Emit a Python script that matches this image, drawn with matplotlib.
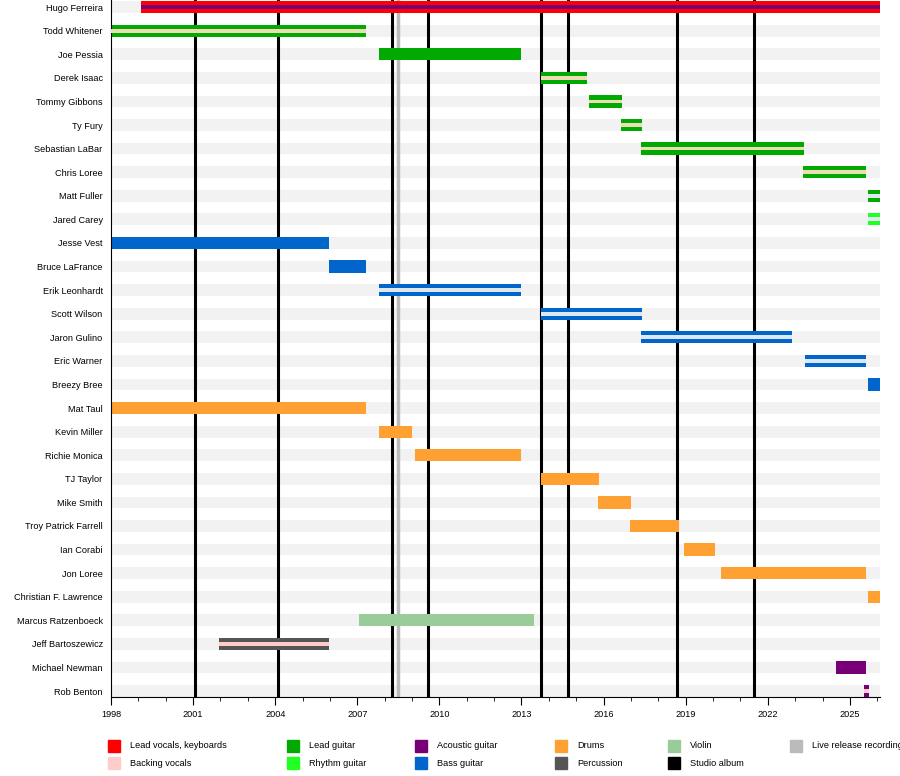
import matplotlib
matplotlib.use("Agg")
import matplotlib.pyplot as plt
from matplotlib.patches import Rectangle

names = ["Hugo Ferreira","Todd Whitener","Joe Pessia","Derek Isaac","Tommy Gibbons","Ty Fury",
         "Sebastian LaBar","Chris Loree","Matt Fuller","Jared Carey","Jesse Vest","Bruce LaFrance",
         "Erik Leonhardt","Scott Wilson","Jaron Gulino","Eric Warner","Breezy Bree","Mat Taul",
         "Kevin Miller","Richie Monica","TJ Taylor","Mike Smith","Troy Patrick Farrell","Ian Corabi",
         "Jon Loree","Christian F. Lawrence","Marcus Ratzenboeck","Jeff Bartoszewicz","Michael Newman","Rob Benton"]
starts = [1999.1,1998.0,2007.8,2013.7,2015.47,2016.63,2017.37,2023.28,2025.66,2025.66,1998.0,2005.97,
          2007.8,2013.7,2017.37,2023.36,2025.66,1998.0,2007.8,2009.1,2013.7,2015.8,2016.96,2018.93,
          2020.29,2025.66,2007.06,2001.95,2024.5,2025.5]
ends = [2026.1,2007.32,2013.0,2015.4,2016.67,2017.4,2023.32,2025.6,2026.1,2026.1,2005.97,2007.32,
        2013.0,2017.4,2022.88,2025.6,2026.1,2007.32,2009.0,2013.0,2015.83,2017.0,2018.75,2020.07,
        2025.6,2026.1,2013.45,2005.97,2025.6,2025.7]
roles = ["vocals","lead","lead","lead","lead","lead","lead","lead","lead","rhythm","bass","bass",
         "bass","bass","bass","bass","bass","drums","drums","drums","drums","drums","drums","drums",
         "drums","drums","violin","perc","acoustic","acoustic"]
second = ["acoustic","tan","","tan","tan","tan","tan","tan","white","white","","",
          "white","white","white","white","","","","","","","","","","","","backing","","backing"]
albums = [2001.07,2004.1,2008.27,2009.6,2013.7,2014.7,2018.7,2021.5]
live = [2008.5]

colors = {"vocals":"#FF0000","backing":"#FFCCCC","lead":"#00AA00","rhythm":"#22FF22",
          "acoustic":"#770077","bass":"#0066CC","drums":"#FFA033","perc":"#555555",
          "violin":"#99CC99","tan":"#EDDCB5","white":"#DDE8F0","album":"#000000","live":"#BBBBBB"}

FS = 6.6
FAM = "Liberation Sans"
fig = plt.figure(figsize=(9,7.76), dpi=100)
ax = fig.add_axes([111/900, 1-697/776, 769/900, 697/776])
n = len(names)
ax.set_xlim(1998, 2026.1)
ax.set_ylim(n-1+0.25, -0.3)
for i in range(n):
    ax.barh(i, 2026.1-1998, left=1998, height=0.5, color="#F2F2F2", zorder=0)
for x in albums:
    ax.axvline(x, color="black", lw=2.2, zorder=1)
for x in live:
    ax.axvline(x, color="#BBBBBB", lw=2.5, zorder=1)
for i in range(n):
    w = ends[i]-starts[i]
    ax.barh(i, w, left=starts[i], height=0.52, color=colors[roles[i]], zorder=2)
    if second[i]:
        ax.barh(i, w, left=starts[i], height=0.16, color=colors[second[i]], zorder=3)
ax.set_yticks(range(n))
ax.set_yticklabels(names, fontsize=FS, family=FAM)
ax.tick_params(axis="y", length=0, pad=6)
ax.set_xticks(range(1998, 2027, 3))
ax.set_xticklabels([str(y) for y in range(1998, 2027, 3)], fontsize=FS, family=FAM)
ax.set_xticks(range(1998, 2027), minor=True)
ax.tick_params(axis="x", which="major", length=6, direction="out")
ax.tick_params(axis="x", which="minor", length=3, direction="out")
for s in ["top","right"]:
    ax.spines[s].set_visible(False)

legend = [("Lead vocals, keyboards","vocals",108,746),("Backing vocals","backing",108,763),
          ("Lead guitar","lead",287,746),("Rhythm guitar","rhythm",287,763),
          ("Acoustic guitar","acoustic",415,746),("Bass guitar","bass",415,763),
          ("Drums","drums",555,746),("Percussion","perc",555,763),
          ("Violin","violin",668,746),("Studio album","album",668,763),
          ("Live release recording","live",790,746)]
for label, key, px, py in legend:
    fig.patches.append(Rectangle((px/900, 1-(py+6)/776), 12/900, 12/776,
                                 transform=fig.transFigure, color=colors[key]))
    fig.text((px+22)/900, 1-py/776, label, fontsize=FS, va="center", family=FAM)
fig.savefig("out.png", dpi=100)
